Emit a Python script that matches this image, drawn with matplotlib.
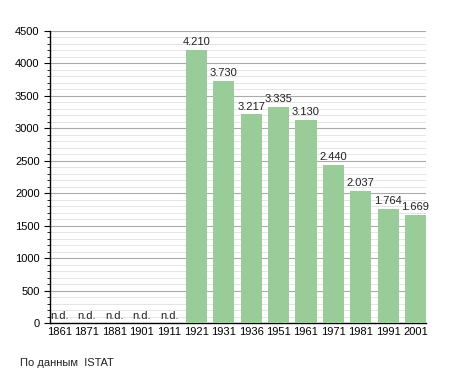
import numpy as np
import matplotlib.pyplot as plt
from matplotlib.ticker import MultipleLocator

plt.rcParams['font.family'] = ['Liberation Sans', 'DejaVu Sans']

# dati censimenti
years = ['1861', '1871', '1881', '1901', '1911', '1921', '1931',
         '1936', '1951', '1961', '1971', '1981', '1991', '2001']
population = [None, None, None, None, None, 4210, 3730,
              3217, 3335, 3130, 2440, 2037, 1764, 1669]

bar_color = '#99cc99'

fig = plt.figure(figsize=(4.55, 3.73), dpi=100)
ax = fig.add_axes([0.110, 0.134, 0.826, 0.783])

x = np.arange(len(years))
heights = [p if p is not None else 0 for p in population]
ax.bar(x, heights, width=0.77, color=bar_color, zorder=3)

for i, p in enumerate(population):
    if p is None:
        ax.text(i, 30, 'n.d.', ha='center', va='bottom', fontsize=8, color='#222222')
    else:
        lbl = f'{p:,}'.replace(',', '.')
        ax.text(i, p + 40, lbl, ha='center', va='bottom', fontsize=8, color='#222222')

ax.set_xlim(-0.35, len(years) - 1 + 0.38)
ax.set_ylim(0, 4500)
ax.set_xticks(x)
ax.set_xticklabels(years, fontsize=8)
ax.yaxis.set_major_locator(MultipleLocator(500))
ax.yaxis.set_minor_locator(MultipleLocator(100))
ax.tick_params(axis='y', labelsize=8, length=4, width=0.8)
ax.tick_params(axis='y', which='minor', length=2, width=0.6)
ax.tick_params(axis='x', length=0, pad=3)

ax.grid(axis='y', which='major', color='#aaaaaa', linewidth=0.8, zorder=0)
ax.grid(axis='y', which='minor', color='#e0e0e0', linewidth=0.6, zorder=0)

for s in ['top', 'right']:
    ax.spines[s].set_visible(False)
ax.spines['left'].set_linewidth(1.0)
ax.spines['bottom'].set_linewidth(1.0)

fig.text(0.044, 0.020, 'По данным  ISTAT', fontsize=8, color='#222222')

plt.savefig('out.png', dpi=100)
